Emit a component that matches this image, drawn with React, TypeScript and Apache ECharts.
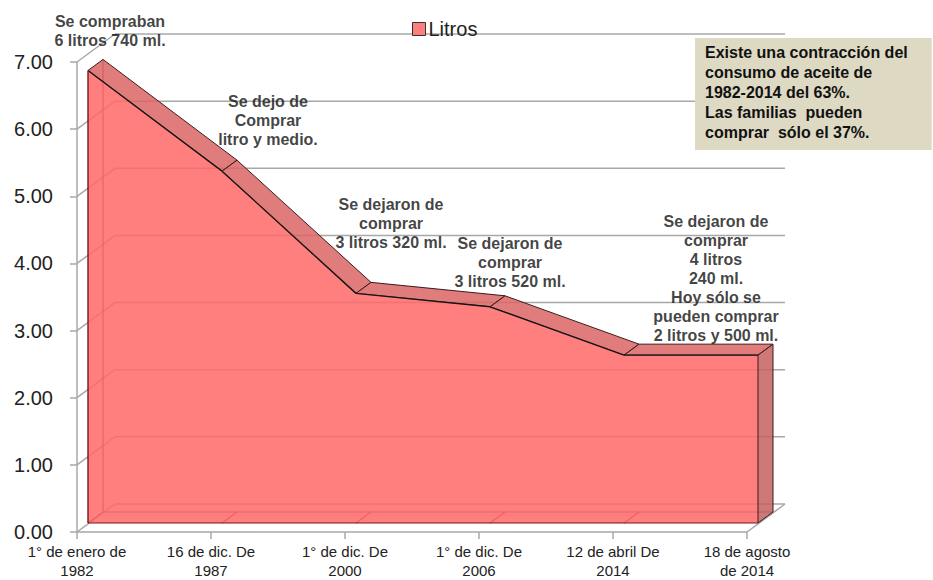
import React, { useEffect, useRef } from "react";
import * as echarts from "echarts";

const categories = [
  "1° de enero de\n1982",
  "16 de dic. De\n1987",
  "1° de dic. De\n2000",
  "1° de dic. De\n2006",
  "12 de abril De\n2014",
  "18 de agosto\nde 2014",
];
const litros = [6.74, 5.24, 3.42, 3.22, 2.5, 2.5];
const yTicks = [0, 1, 2, 3, 4, 5, 6, 7];
const notes = [
  "Se compraban\n6 litros 740 ml.",
  "Se dejo de\nComprar\nlitro y medio.",
  "Se dejaron de\ncomprar\n3 litros 320 ml.",
  "Se dejaron de\ncomprar\n3 litros 520 ml.",
  "",
  "Se dejaron de\ncomprar\n4 litros\n240 ml.\nHoy sólo se\npueden comprar\n2 litros y 500 ml.",
];
const boxText =
  "Existe una contracción del\nconsumo de aceite de\n1982-2014 del 63%.\nLas familias  pueden\ncomprar  sólo el 37%.";

// layout (pixel offsets for the 3D look and note placement)
const NOTE_OFFSETS = [
  [33, -29],
  [57, -31],
  [46, -50],
  [31, -24],
  [0, 0],
  [-31, -19],
];
const FRONT = [11, -9];
const BACK = [26, -20];
const WALL = [38, -28];

const FONT = "'Liberation Sans', Arial, sans-serif";
const GRID_GRAY = "#a8a8a8";

export default function App() {
  const ref = useRef<HTMLDivElement>(null);
  useEffect(() => {
    if (!ref.current) return;
    const chart = echarts.init(ref.current, null, { renderer: "svg" });
    const n = categories.length;

    const line = (p: number[], q: number[], stroke: string, lw: number) => ({
      type: "line",
      shape: { x1: p[0], y1: p[1], x2: q[0], y2: q[1] },
      style: { stroke, lineWidth: lw },
      silent: true,
    });

    const wallRender = (params: any, api: any) => {
      const v = yTicks[params.dataIndex];
      const p0 = api.coord([0, v]);
      const p1 = api.coord([n - 1, v]);
      const w0 = [p0[0] + WALL[0], p0[1] + WALL[1]];
      const w1 = [p1[0] + WALL[0], p1[1] + WALL[1]];
      const children: any[] = [line(p0, w0, GRID_GRAY, 1.5), line(w0, w1, GRID_GRAY, 1.5)];
      if (v === 0) children.push(line(p1, w1, GRID_GRAY, 1.5));
      return { type: "group", children };
    };

    const frontFill = "rgba(255,104,104,0.85)";
    const topFill = "rgba(219,101,101,0.85)";
    const sideFill = "rgba(198,96,96,0.85)";
    const edge = "#3a1c1c";
    const darkRed = "#7a1616";
    const hidden = "rgba(130,20,20,0.85)";

    const areaRender = (params: any, api: any) => {
      const i = params.dataIndex;
      const pt = (k: number, v: number, d: number[]) => {
        const c = api.coord([k, v]);
        return [c[0] + d[0], c[1] + d[1]];
      };
      const va = litros[i];
      const Fa = pt(i, va, FRONT);
      const Ba = pt(i, va, BACK);
      const F0a = pt(i, 0, FRONT);
      const B0a = pt(i, 0, BACK);
      const children: any[] = [];
      if (i < n - 1) {
        const vb = litros[i + 1];
        const Fb = pt(i + 1, vb, FRONT);
        const Bb = pt(i + 1, vb, BACK);
        const F0b = pt(i + 1, 0, FRONT);
        const B0b = pt(i + 1, 0, BACK);
        children.push(line(B0a, B0b, hidden, 1.2));
        children.push(line(F0a, B0a, hidden, 1.2));
        if (i === 0) children.push(line(Ba, B0a, hidden, 1.2));
        children.push({
          type: "polygon",
          shape: { points: [Fa, Fb, Bb, Ba] },
          style: { fill: topFill, stroke: edge, lineWidth: 1 },
          silent: true,
        });
        children.push({
          type: "polygon",
          shape: { points: [Fa, Fb, F0b, F0a] },
          style: { fill: frontFill, stroke: "none" },
          silent: true,
        });
        children.push(line(Fa, Fb, "#151515", 1.4));
        children.push(line(F0a, F0b, darkRed, 1.2));
        if (i === 0) children.push(line(Fa, F0a, darkRed, 1.4));
      } else {
        children.push({
          type: "polygon",
          shape: { points: [Fa, Ba, B0a, F0a] },
          style: { fill: sideFill, stroke: edge, lineWidth: 1 },
          silent: true,
        });
      }
      return { type: "group", children };
    };

    chart.setOption({
      animation: false,
      backgroundColor: "#ffffff",
      title: {
        text: boxText,
        left: 695,
        top: 38,
        backgroundColor: "#DDD9C3",
        padding: [4, 24, 8, 10],
        textStyle: {
          fontFamily: FONT,
          fontSize: 16,
          fontWeight: "bold",
          color: "#111",
          lineHeight: 20,
        },
      },
      legend: {
        data: ["Litros"],
        left: 412,
        top: 19,
        padding: 0,
        itemGap: 4,
        icon: "rect",
        itemWidth: 13,
        itemHeight: 13,
        itemStyle: { color: "#FF7F7F", borderColor: "#333", borderWidth: 1 },
        textStyle: { fontFamily: FONT, fontSize: 20, color: "#222", lineHeight: 20, padding: [0, 0, 0, -2] },
      },
      grid: { left: 77, right: 186, top: 62, bottom: 43, containLabel: false },
      xAxis: {
        type: "category",
        data: categories,
        boundaryGap: false,
        axisLine: { show: true, lineStyle: { color: GRID_GRAY, width: 1.5 } },
        axisTick: { show: true, length: 7, lineStyle: { color: GRID_GRAY, width: 1.5 } },
        axisLabel: {
          margin: 10,
          fontFamily: "'Liberation Sans Narrow', 'Liberation Sans', Arial, sans-serif",
          fontSize: 15,
          lineHeight: 19,
          color: "#222",
          interval: 0,
        },
        splitLine: { show: false },
      },
      yAxis: {
        type: "value",
        min: 0,
        max: 7,
        interval: 1,
        axisLine: { show: true, lineStyle: { color: GRID_GRAY, width: 1.5 } },
        axisTick: { show: true, length: 7, lineStyle: { color: GRID_GRAY, width: 1.5 } },
        axisLabel: {
          margin: 24,
          fontFamily: FONT,
          fontSize: 20,
          color: "#222",
          formatter: (v: number) => v.toFixed(2),
        },
        splitLine: { show: false },
      },
      series: [
        {
          name: "walls",
          type: "custom",
          z: 1,
          silent: true,
          renderItem: wallRender,
          data: yTicks.map((v) => [0, v]),
        },
        {
          name: "Litros",
          type: "custom",
          z: 2,
          silent: true,
          itemStyle: { color: "#FF7F7F" },
          renderItem: areaRender,
          data: litros.map((v, i) => [i, v]),
        },
        {
          name: "notas",
          type: "scatter",
          z: 5,
          silent: true,
          symbolSize: 1,
          itemStyle: { color: "transparent" },
          data: litros.map((v, i) => ({
            value: [i, v],
            label: {
              show: notes[i] !== "",
              formatter: notes[i],
              position: "top",
              distance: 0,
              offset: NOTE_OFFSETS[i],
              align: "center",
              fontFamily: FONT,
              fontSize: 16,
              fontWeight: "bold",
              lineHeight: 19,
              color: "#111",
            },
          })),
        },
      ],
    });
    return () => chart.dispose();
  }, []);

  return (
    <div
      ref={ref}
      style={{ position: "fixed", left: 0, top: 0, width: 933, height: 580 }}
    />
  );
}
